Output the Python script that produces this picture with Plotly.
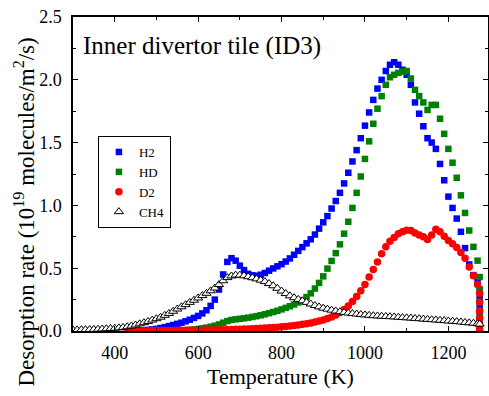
import plotly.graph_objects as go

# ---------------- data ----------------
T_h2 = [440, 450, 460, 470, 480, 490, 500, 510, 520, 530, 540, 550, 560, 570, 580, 590,
        600, 610, 620, 630, 640, 650, 660, 670, 680, 690, 700, 710, 720, 730, 740, 750,
        760, 770, 780, 790, 800, 810, 820, 830, 840, 850, 860, 870, 880, 890, 900, 910,
        920, 930, 940, 950, 960, 970, 980, 990, 1000, 1010, 1020, 1030, 1040, 1050, 1060,
        1070, 1080, 1090, 1100, 1110, 1120, 1130, 1140, 1150, 1160, 1170, 1180, 1190, 1200,
        1210, 1220, 1230, 1240, 1250, 1260, 1270, 1275, 1275, 1275, 1275, 1275, 1275]
h2 = [0.0, 0.002, 0.004, 0.006, 0.009, 0.012, 0.017, 0.024, 0.031, 0.039, 0.048, 0.057,
      0.066, 0.077, 0.09, 0.104, 0.12, 0.14, 0.165, 0.2, 0.25, 0.33, 0.45, 0.55, 0.58, 0.56,
      0.52, 0.485, 0.455, 0.443, 0.44, 0.448, 0.462, 0.48, 0.498, 0.515, 0.532, 0.553, 0.578,
      0.607, 0.638, 0.668, 0.698, 0.73, 0.768, 0.815, 0.865, 0.915, 0.975, 1.035, 1.1, 1.175,
      1.26, 1.35, 1.44, 1.535, 1.635, 1.74, 1.84, 1.93, 2.0, 2.07, 2.12, 2.14, 2.12, 2.08,
      2.04, 1.96, 1.82, 1.73, 1.63, 1.535, 1.5, 1.45, 1.33, 1.2, 1.07, 0.98, 0.895, 0.79,
      0.66, 0.53, 0.445, 0.39, 0.33, 0.26, 0.19, 0.12, 0.06, 0.01]

T_hd = [540, 550, 560, 570, 580, 590, 600, 610, 620, 630, 640, 650, 660, 670, 680, 690,
        700, 710, 720, 730, 740, 750, 760, 770, 780, 790, 800, 810, 820, 830, 840, 850,
        860, 870, 880, 890, 900, 910, 920, 930, 940, 950, 960, 970, 980, 990, 1000, 1010,
        1020, 1030, 1040, 1050, 1060, 1070, 1080, 1090, 1100, 1110, 1120, 1130, 1140, 1150,
        1160, 1170, 1180, 1190, 1200, 1210, 1220, 1230, 1240, 1250, 1260, 1270,
        1275, 1275, 1275, 1275, 1275, 1275]
hd = [0.0, 0.002, 0.004, 0.006, 0.009, 0.012, 0.016, 0.021, 0.027, 0.034, 0.042, 0.052,
      0.066, 0.079, 0.088, 0.093, 0.097, 0.101, 0.106, 0.112, 0.118, 0.125, 0.133, 0.142,
      0.151, 0.161, 0.172, 0.184, 0.197, 0.211, 0.227, 0.246, 0.27, 0.3, 0.338, 0.383,
      0.435, 0.497, 0.558, 0.62, 0.69, 0.775, 0.87, 0.98, 1.1, 1.23, 1.37, 1.51, 1.65, 1.77,
      1.87, 1.96, 2.02, 2.04, 2.055, 2.065, 2.07, 2.01, 1.92, 1.87, 1.82, 1.76, 1.8, 1.8,
      1.69, 1.57, 1.45, 1.34, 1.22, 1.08, 0.94, 0.8, 0.67, 0.56,
      0.43, 0.33, 0.23, 0.14, 0.06, 0.01]

T_d2 = [430, 440, 450, 460, 470, 480, 490, 500, 510, 520, 530, 540, 550, 560, 570, 580,
        590, 600, 610, 620, 630, 640, 650, 660, 670, 680, 690, 700, 710, 720, 730, 740,
        750, 760, 770, 780, 790, 800, 810, 820, 830, 840, 850, 860, 870, 880, 890, 900,
        910, 920, 930, 940, 950, 960, 970, 980, 990, 1000, 1010, 1020, 1030, 1040, 1050,
        1060, 1070, 1080, 1090, 1100, 1110, 1120, 1130, 1140, 1150, 1160, 1170, 1180, 1190,
        1200, 1210, 1220, 1230, 1240, 1250, 1260, 1270, 1275, 1275, 1275, 1275, 1275, 1275]
d2 = [0.0, 0.001, 0.001, 0.002, 0.002, 0.002, 0.003, 0.003, 0.003, 0.003, 0.004, 0.004,
      0.004, 0.005, 0.005, 0.005, 0.006, 0.006, 0.007, 0.007, 0.008, 0.008, 0.009, 0.01,
      0.011, 0.012, 0.013, 0.014, 0.015, 0.016, 0.018, 0.019, 0.021, 0.023, 0.025, 0.027,
      0.03, 0.033, 0.036, 0.04, 0.044, 0.048, 0.053, 0.058, 0.064, 0.071, 0.079, 0.088,
      0.099, 0.112, 0.128, 0.148, 0.172, 0.2, 0.235, 0.275, 0.32, 0.37, 0.43, 0.49, 0.55,
      0.615, 0.67, 0.715, 0.745, 0.775, 0.79, 0.802, 0.8, 0.78, 0.765, 0.75, 0.728, 0.765,
      0.81, 0.79, 0.755, 0.72, 0.695, 0.665, 0.625, 0.58, 0.51, 0.44, 0.37,
      0.3, 0.23, 0.16, 0.1, 0.05, 0.01]

T_ch4 = [300, 310, 320, 330, 340, 350, 360, 370, 380, 390, 400, 410, 420, 430, 440, 450,
         460, 470, 480, 490, 500, 510, 520, 530, 540, 550, 560, 570, 580, 590, 600, 610,
         620, 630, 640, 650, 660, 670, 680, 690, 700, 710, 720, 730, 740, 750, 760, 770,
         780, 790, 800, 810, 820, 830, 840, 850, 860, 870, 880, 890, 900, 910, 920, 930,
         940, 950, 960, 970, 980, 990, 1000, 1010, 1020, 1030, 1040, 1050, 1060, 1070, 1080,
         1090, 1100, 1110, 1120, 1130, 1140, 1150, 1160, 1170, 1180, 1190, 1200, 1210, 1220,
         1230, 1240, 1250, 1260, 1270, 1275]
ch4 = [0.008, 0.009, 0.01, 0.011, 0.012, 0.013, 0.014, 0.016, 0.018, 0.02, 0.022, 0.025,
       0.029, 0.034, 0.04, 0.048, 0.057, 0.066, 0.076, 0.087, 0.098, 0.11, 0.125, 0.14,
       0.157, 0.175, 0.193, 0.21, 0.228, 0.245, 0.263, 0.282, 0.3, 0.32, 0.342, 0.37, 0.4,
       0.425, 0.438, 0.445, 0.445, 0.44, 0.432, 0.424, 0.415, 0.405, 0.393, 0.378, 0.36,
       0.34, 0.318, 0.298, 0.28, 0.265, 0.252, 0.24, 0.228, 0.215, 0.203, 0.192, 0.182,
       0.174, 0.166, 0.159, 0.153, 0.148, 0.143, 0.139, 0.135, 0.131, 0.128, 0.125, 0.122,
       0.12, 0.118, 0.116, 0.114, 0.112, 0.11, 0.107, 0.105, 0.103, 0.1, 0.098, 0.095,
       0.093, 0.09, 0.088, 0.085, 0.083, 0.08, 0.078, 0.075, 0.072, 0.068, 0.065, 0.062,
       0.058, 0.055]

FONT = "Liberation Serif"

fig = go.Figure()
fig.add_trace(go.Scatter(x=T_h2, y=h2, mode="markers", name="H2",
                         marker=dict(symbol="square", size=6.5, color="#0000ff")))
fig.add_trace(go.Scatter(x=T_hd, y=hd, mode="markers", name="HD",
                         marker=dict(symbol="square", size=6.5, color="#008000")))
fig.add_trace(go.Scatter(x=T_d2, y=d2, mode="markers", name="D2",
                         marker=dict(symbol="circle", size=7.5, color="#ff0000")))
fig.add_trace(go.Scatter(x=T_ch4, y=ch4, mode="markers", name="CH4",
                         marker=dict(symbol="triangle-up", size=8, color="white",
                                     line=dict(color="black", width=1))))

axis_common = dict(
    showline=True, linecolor="black", linewidth=1.5, mirror="ticks",
    ticks="inside", ticklen=5, tickwidth=1, tickcolor="black",
    showgrid=False, zeroline=False,
    tickfont=dict(family=FONT, size=18, color="black"),
)

fig.update_xaxes(range=[300, 1295], tickmode="array", tickvals=[400, 600, 800, 1000, 1200],
                 minor=dict(ticks="inside", ticklen=3, dtick=100, tick0=300, tickcolor="black"),
                 title=dict(text="Temperature (K)", font=dict(family=FONT, size=22, color="black"),
                            standoff=6),
                 ticklabelstandoff=5, automargin=False, **axis_common)
fig.update_yaxes(range=[0, 2.5], tickmode="array", tickvals=[0, 0.5, 1.0, 1.5, 2.0, 2.5],
                 tickformat=".1f",
                 minor=dict(ticks="inside", ticklen=3, dtick=0.25, tick0=0, tickcolor="black"),
                 ticklabelstandoff=6, automargin=False, **axis_common)

# y-axis title (placed as annotation to match the reference position)
fig.add_annotation(text="Desorption rate (10<sup>19</sup> molecules/m<sup>2</sup>/s)",
                   xref="paper", yref="paper", x=-0.116, y=0.38, xanchor="center",
                   yanchor="middle", textangle=-90, showarrow=False,
                   font=dict(family=FONT, size=23, color="black"))

fig.add_annotation(text="Inner divertor tile (ID3)", xref="paper", yref="paper",
                   x=0.019, y=0.908, xanchor="left", yanchor="middle", showarrow=False,
                   font=dict(family=FONT, size=25, color="black"))

fig.update_layout(
    width=489, height=396,
    margin=dict(l=73, r=1, t=17, b=65),
    paper_bgcolor="white", plot_bgcolor="white",
    showlegend=True,
    legend=dict(x=0.06, y=0.621, xanchor="left", yanchor="top",
                bordercolor="black", borderwidth=1, bgcolor="white",
                font=dict(family=FONT, size=13, color="black"),
                tracegroupgap=0, itemwidth=30),
)

fig.write_html("out.html")
